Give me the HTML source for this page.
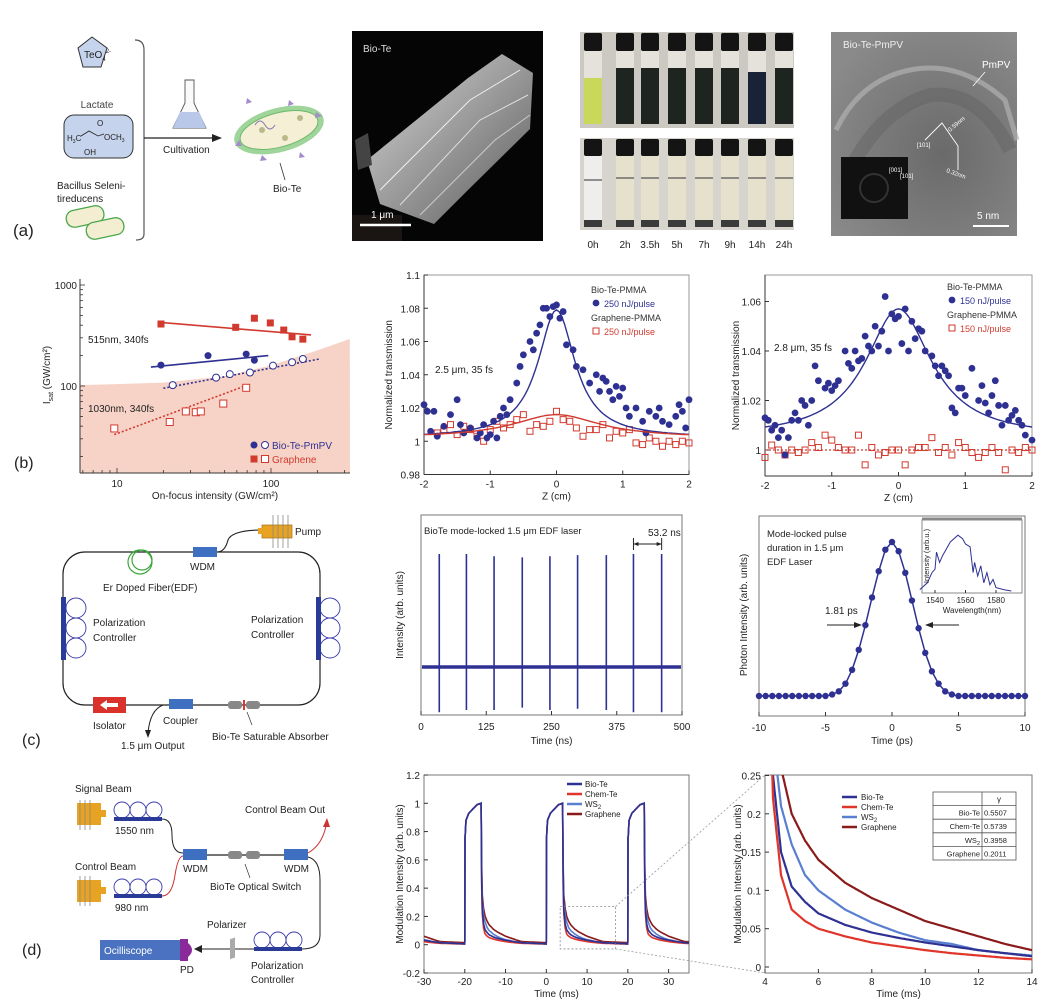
<!DOCTYPE html>
<html><head><meta charset="utf-8">
<style>
html,body{margin:0;padding:0;background:#fff;}
svg{display:block;font-family:"Liberation Sans",Arial,sans-serif;}
text{font-family:"Liberation Sans",Arial,sans-serif;}
</style></head>
<body>
<svg id="fig" width="1059" height="1004" viewBox="0 0 1059 1004" xmlns="http://www.w3.org/2000/svg">
<defs>
<linearGradient id="cryst" x1="0" y1="0" x2="1" y2="1"><stop offset="0" stop-color="#d8d8d8"/><stop offset="0.5" stop-color="#9a9a9a"/><stop offset="1" stop-color="#5a5a5a"/></linearGradient>
<radialGradient id="tem" cx="0.6" cy="0.6" r="0.7"><stop offset="0" stop-color="#6a6a6a"/><stop offset="1" stop-color="#8a8a8a"/></radialGradient>
<clipPath id="clipD3"><rect x="765" y="775" width="267" height="198"/></clipPath>
<clipPath id="clipD2"><rect x="424" y="775" width="265" height="198"/></clipPath>
</defs>
<rect x="0" y="0" width="1059" height="1004" fill="#fff"/>

<!-- ===== Panel (a) ===== -->
<g>
  <polygon points="92,37 107,48 101,67 83,67 78,48" fill="#c5d3ec" stroke="#333" stroke-width="1"/>
  <text x="84" y="58" font-size="10" fill="#222">TeO<tspan font-size="6" dy="3">4</tspan><tspan font-size="6" dy="-8">2-</tspan></text>
  <text x="97" y="108" font-size="10" fill="#444" text-anchor="middle">Lactate</text>
  <rect x="64" y="115" width="69" height="43" rx="10" fill="#c5d3ec" stroke="#333" stroke-width="1"/>
  <text x="67" y="141" font-size="8" fill="#222">H<tspan font-size="5" dy="2">3</tspan><tspan dy="-2">C</tspan></text>
  <text x="104" y="140" font-size="8" fill="#222">OCH<tspan font-size="5" dy="2">3</tspan></text>
  <text x="97" y="126" font-size="8" fill="#222">O</text>
  <text x="84" y="155" font-size="8" fill="#222">OH</text>
  <polyline points="81,136 89,131 98,136 104,134" fill="none" stroke="#222" stroke-width="0.8"/>
  <text x="57" y="189" font-size="10" fill="#222">Bacillus Seleni-</text>
  <text x="57" y="202" font-size="10" fill="#222">tiredu<tspan>cens</tspan></text>
  <rect x="66" y="208" width="38" height="17" rx="8" fill="#f3edd2" stroke="#4aa84a" stroke-width="1.3" transform="rotate(-12 85 216)"/>
  <rect x="86" y="220" width="38" height="17" rx="8" fill="#f3edd2" stroke="#4aa84a" stroke-width="1.3" transform="rotate(-12 105 228)"/>
  <text x="13" y="236" font-size="17" fill="#222">(a)</text>
  <path d="M135,40 Q144,40 144,50 L144,234 Q144,240 136,240" fill="none" stroke="#555" stroke-width="1.2"/>
  <line x1="144" y1="138" x2="215" y2="138" stroke="#222" stroke-width="1.2"/>
  <polygon points="222,138 212,134 212,142" fill="#222"/>
  <text x="163" y="153" font-size="10" fill="#222">Cultivation</text>
  <path d="M185,80 L194,80 L194,103 L206,128 L173,128 L185,103 Z" fill="#fafafa" stroke="#555" stroke-width="0.9"/>
  <path d="M180,112 L199,112 L206,128 L173,128 Z" fill="#b9c8e8"/>
  <ellipse cx="279" cy="130" rx="46" ry="22" fill="#9fd49a" transform="rotate(-15 279 130)"/>
  <ellipse cx="279" cy="130" rx="40" ry="17" fill="#f5efd6" stroke="#6ab86a" stroke-width="1" transform="rotate(-15 279 130)"/>
  <polygon points="247,98 252,102 246,104" fill="#a48ccc"/><polygon points="289,100 294,104 288,106" fill="#a48ccc"/>
  <polygon points="316,112 322,116 315,118" fill="#a48ccc"/><polygon points="262,155 267,160 260,161" fill="#a48ccc"/>
  <polygon points="300,152 305,157 299,158" fill="#a48ccc"/><polygon points="239,140 235,146 242,146" fill="#a48ccc"/>
  <circle cx="262" cy="130" r="3" fill="#b9b98a"/><circle cx="285" cy="138" r="3" fill="#b9b98a"/><circle cx="300" cy="118" r="3" fill="#b9b98a"/>
  <path d="M255,125 q5,-8 10,0 q5,8 10,0" fill="none" stroke="#8a7ab0" stroke-width="1"/>
  <line x1="285" y1="180" x2="280" y2="163" stroke="#333" stroke-width="0.8"/>
  <text x="273" y="192" font-size="10" fill="#222">Bio-Te</text>
</g>
<g>
  <rect x="352" y="31" width="191" height="210" fill="#050505"/>
  <rect x="352" y="215" width="50" height="26" fill="#1a1512"/>
  <polygon points="367,160 468,78 502,54 533,73 530,129 468,190 434,224 380,204" fill="url(#cryst)"/>
  <polyline points="380,190 470,100 520,70" fill="none" stroke="#eee" stroke-width="1"/>
  <polyline points="400,205 480,120 528,95" fill="none" stroke="#ddd" stroke-width="1"/>
  <polyline points="420,215 495,140 530,115" fill="none" stroke="#ccc" stroke-width="1"/>
  <polygon points="355,140 368,133 372,165 358,170" fill="#444"/>
  <text x="363" y="52" font-size="10" fill="#ddd">Bio-Te</text>
  <text x="371" y="218" font-size="10" fill="#fff">1 μm</text>
  <line x1="360" y1="225" x2="411" y2="225" stroke="#fff" stroke-width="2.5"/>
</g>
<g id="vials">
  <rect x="580" y="32" width="214" height="96" fill="#cbc9c2"/>
  <rect x="580" y="138" width="214" height="92" fill="#d6d4cc"/>
</g>
<g>
  <rect x="831" y="32" width="186" height="204" fill="url(#tem)"/>
  <path d="M836,130 Q860,80 910,70 Q960,60 1005,100 L1017,140" fill="none" stroke="#b0b0b0" stroke-width="5" opacity="0.7"/>
  <path d="M850,170 Q880,110 930,95 Q980,90 1010,150" fill="none" stroke="#5e5e5e" stroke-width="14" opacity="0.4"/>
  <rect x="841" y="157" width="67" height="62" fill="#111"/>
  <circle cx="874" cy="188" r="14" fill="none" stroke="#333" stroke-width="2"/>
  <text x="843" y="48" font-size="10" fill="#eee">Bio-Te-PmPV</text>
  <text x="982" y="68" font-size="10" fill="#fff">PmPV</text>
  <line x1="985" y1="72" x2="973" y2="86" stroke="#fff" stroke-width="0.8"/>
  <polyline points="925,140 942,123 958,146 958,170" fill="none" stroke="#fff" stroke-width="0.9"/>
  <text x="950" y="132" font-size="6" fill="#fff" transform="rotate(-40 950 132)">0.59nm</text>
  <text x="946" y="172" font-size="6" fill="#fff" transform="rotate(20 946 172)">0.32nm</text>
  <text x="917" y="147" font-size="6" fill="#fff">[101]</text>
  <text x="889" y="172" font-size="6" fill="#fff">[001]</text>
  <text x="900" y="178" font-size="6" fill="#fff">[101]</text>
  <text x="977" y="219" font-size="10" fill="#fff">5 nm</text>
  <line x1="973" y1="226" x2="1009" y2="226" stroke="#fff" stroke-width="2"/>
</g>

<!-- ===== Panel (c) schematic ===== -->
<g>
  <rect x="63" y="552" width="257" height="153" rx="22" fill="none" stroke="#222" stroke-width="1.2"/>
  <path d="M217,552 Q225,552 228,540 Q232,530 262,530" fill="none" stroke="#222" stroke-width="1.1"/>
  <rect x="262" y="525" width="30" height="13" fill="#e8a323" stroke="#a87010" stroke-width="0.7"/>
  <rect x="258" y="528" width="5" height="6" fill="#e8a323"/>
  <g stroke="#888" stroke-width="0.8"><line x1="273" y1="515" x2="273" y2="548"/><line x1="278" y1="515" x2="278" y2="548"/><line x1="283" y1="515" x2="283" y2="548"/><line x1="288" y1="515" x2="288" y2="548"/></g>
  <text x="295" y="535" font-size="10" fill="#222">Pump</text>
  <rect x="193" y="547" width="24" height="10" fill="#3f6fc0"/>
  <text x="190" y="570" font-size="10" fill="#222">WDM</text>
  <circle cx="140" cy="562" r="12" fill="none" stroke="#3aa53a" stroke-width="1.2"/>
  <circle cx="142" cy="560" r="10" fill="none" stroke="#3aa53a" stroke-width="1.2"/>
  <text x="103" y="591" font-size="10" fill="#222">Er Doped Fiber(EDF)</text>
  <rect x="61" y="597" width="5" height="63" fill="#2a3a98"/>
  <g fill="none" stroke="#3a3aa8" stroke-width="0.9"><circle cx="76" cy="608" r="10"/><circle cx="76" cy="628" r="10"/><circle cx="76" cy="648" r="10"/>
  <circle cx="330" cy="608" r="10"/><circle cx="330" cy="628" r="10"/><circle cx="330" cy="648" r="10"/></g>
  <rect x="316" y="597" width="5" height="63" fill="#2a3a98"/>
  <text x="93" y="626" font-size="10" fill="#222">Polarization</text>
  <text x="93" y="641" font-size="10" fill="#222">Controller</text>
  <text x="251" y="623" font-size="10" fill="#222">Polarization</text>
  <text x="251" y="638" font-size="10" fill="#222">Controller</text>
  <rect x="93" y="697" width="33" height="16" fill="#d8322a"/>
  <polygon points="100,705 107,700 107,710" fill="#fff"/><rect x="106" y="703" width="12" height="4" fill="#fff"/>
  <text x="93" y="729" font-size="10" fill="#222">Isolator</text>
  <rect x="169" y="699" width="24" height="10" fill="#3f6fc0"/>
  <text x="163" y="724" font-size="10" fill="#222">Coupler</text>
  <path d="M163,705 Q150,710 148,733" fill="none" stroke="#222" stroke-width="1"/>
  <polygon points="148,738 145,730 151,730" fill="#222"/>
  <text x="121" y="749" font-size="10" fill="#222">1.5 μm Output</text>
  <rect x="228" y="701" width="14" height="8" rx="3" fill="#888"/><rect x="246" y="701" width="14" height="8" rx="3" fill="#888"/>
  <rect x="243" y="700" width="2" height="10" fill="#d33"/>
  <line x1="252" y1="725" x2="247" y2="712" stroke="#333" stroke-width="0.7"/>
  <text x="212" y="740" font-size="10" fill="#222">Bio-Te Saturable Absorber</text>
  <text x="22" y="745" font-size="16" fill="#222">(c)</text>
</g>

<!-- ===== Panel (d) schematic ===== -->
<g>
  <text x="75" y="792" font-size="10" fill="#222">Signal Beam</text>
  <rect x="77" y="803" width="24" height="22" fill="#e8a323"/><rect x="101" y="810" width="5" height="7" fill="#e8a323"/>
  <g stroke="#888" stroke-width="0.8"><line x1="80" y1="800" x2="80" y2="830"/><line x1="85" y1="800" x2="85" y2="830"/><line x1="90" y1="800" x2="90" y2="830"/></g>
  <g fill="none" stroke="#3a3aa8" stroke-width="0.9"><circle cx="122" cy="810" r="8"/><circle cx="138" cy="810" r="8"/><circle cx="154" cy="810" r="8"/>
  <circle cx="122" cy="887" r="8"/><circle cx="138" cy="887" r="8"/><circle cx="154" cy="887" r="8"/>
  <circle cx="262" cy="940" r="8"/><circle cx="278" cy="940" r="8"/><circle cx="294" cy="940" r="8"/></g>
  <rect x="114" y="817" width="48" height="4" fill="#2a3a98"/><rect x="114" y="894" width="48" height="4" fill="#2a3a98"/><rect x="254" y="947" width="48" height="4" fill="#2a3a98"/>
  <text x="115" y="834" font-size="10" fill="#222">1550 nm</text>
  <text x="75" y="870" font-size="10" fill="#222">Control Beam</text>
  <rect x="77" y="880" width="24" height="22" fill="#e8a323"/><rect x="101" y="887" width="5" height="7" fill="#e8a323"/>
  <g stroke="#888" stroke-width="0.8"><line x1="80" y1="876" x2="80" y2="906"/><line x1="85" y1="876" x2="85" y2="906"/><line x1="90" y1="876" x2="90" y2="906"/></g>
  <text x="115" y="911" font-size="10" fill="#222">980 nm</text>
  <path d="M162,819 Q172,819 172,835 Q172,853 183,853" fill="none" stroke="#222" stroke-width="1"/>
  <path d="M162,896 Q172,896 175,875 Q178,856 183,856" fill="none" stroke="#c33" stroke-width="1"/>
  <rect x="183" y="849" width="24" height="11" fill="#3f6fc0"/><rect x="284" y="849" width="24" height="11" fill="#3f6fc0"/>
  <line x1="207" y1="855" x2="284" y2="855" stroke="#222" stroke-width="1.2"/>
  <rect x="228" y="851" width="14" height="8" rx="3" fill="#888"/><rect x="246" y="851" width="14" height="8" rx="3" fill="#888"/>
  <text x="183" y="872" font-size="10" fill="#222">WDM</text><text x="284" y="872" font-size="10" fill="#222">WDM</text>
  <line x1="250" y1="878" x2="245" y2="864" stroke="#333" stroke-width="0.7"/>
  <text x="210" y="890" font-size="10" fill="#222">BioTe Optical Switch</text>
  <path d="M308,853 Q322,845 326,826" fill="none" stroke="#c33" stroke-width="1"/>
  <polygon points="327,818 323,827 330,827" fill="#c33"/>
  <text x="245" y="813" font-size="10" fill="#222">Control Beam Out</text>
  <path d="M308,857 Q320,860 320,880 L320,935 Q320,949 302,949" fill="none" stroke="#222" stroke-width="1"/>
  <line x1="254" y1="949" x2="197" y2="949" stroke="#222" stroke-width="1"/>
  <polygon points="194,949 202,945 202,953" fill="#222"/>
  <rect x="230" y="938" width="5" height="20" fill="#aaa" transform="skewY(-20) translate(0,85)"/>
  <text x="207" y="928" font-size="10" fill="#222">Polarizer</text>
  <text x="251" y="969" font-size="10" fill="#222">Polarization</text>
  <text x="251" y="983" font-size="10" fill="#222">Controller</text>
  <rect x="100" y="940" width="81" height="20" fill="#4a72c0"/>
  <text x="104" y="954" font-size="10" fill="#fff">Ocilliscope</text>
  <rect x="180" y="939" width="8" height="22" fill="#8a2a9a"/><path d="M188,943 Q196,950 188,957 Z" fill="#8a2a9a"/>
  <text x="180" y="973" font-size="10" fill="#222">PD</text>
  <text x="22" y="955" font-size="16" fill="#222">(d)</text>
</g>
<text x="14" y="468" font-size="16" fill="#222">(b)</text>
<g id="charts"></g>
</svg>

<script>
// ---------------- DATA ----------------
// vials (row a)
const vialLabels=["0h","2h","3.5h","5h","7h","9h","14h","24h"];
const vialX=[593,625,650,677,704,730,757,784];
// b1 (log-log)
const b1GrFillX=[19.3,59,78,99,121,137,161];
const b1GrFillY=[411,381,469,421,358,307,291];
const b1GrFitX=[18.4,182], b1GrFitY=[428,320];
const b1BtFillX=[19.3,39,69,78];
const b1BtFillY=[161,200,207,180];
const b1BtFitX=[16.6,96], b1BtFitY=[154,200];
const b1BtOpenX=[23,44,54,73,103,137,161];
const b1BtOpenY=[102,121,131,136,159,172,185];
const b1BtOpenFitX=[20,206], b1BtOpenFitY=[95,185];
const b1GrOpenX=[9.6,22,28,32.5,35,49,69];
const b1GrOpenY=[38,44,56,55,56,67,96];
const b1GrOpenFitX=[9.6,69], b1GrOpenFitY=[33,101];
const b1RegionX=[5.8,20,50,100,200,325];
const b1RegionY=[102,108,125,160,225,292];
const b1XTicks=[10,100], b1YTicks=[100,1000];
// b2
const b2BlueX=[-2,-1.95,-1.9,-1.85,-1.8,-1.7,-1.6,-1.5,-1.45,-1.4,-1.3,-1.2,-1.15,-1.1,-1.05,-1.0,-0.95,-0.9,-0.85,-0.8,-0.75,-0.7,-0.6,-0.55,-0.5,-0.4,-0.35,-0.3,-0.25,-0.2,-0.15,-0.1,-0.05,0,0.05,0.1,0.15,0.25,0.3,0.4,0.5,0.6,0.65,0.7,0.75,0.8,0.85,0.9,0.95,1.0,1.05,1.1,1.2,1.3,1.35,1.4,1.5,1.55,1.6,1.7,1.8,1.85,1.9,1.95,2.0];
const b2BlueY=[1.022,1.018,1.006,1.018,1.003,1.009,1.016,1.025,1.010,1.005,1.008,1.002,1.005,1.010,1.002,1.004,1.012,1.002,1.015,1.020,1.016,1.025,1.035,1.045,1.052,1.060,1.055,1.065,1.070,1.080,1.080,1.075,1.081,1.082,1.074,1.078,1.058,1.055,1.045,1.043,1.035,1.040,1.030,1.038,1.036,1.030,1.025,1.033,1.027,1.032,1.020,1.015,1.020,1.012,1.005,1.018,1.015,1.020,1.012,1.010,1.015,1.022,1.018,1.008,1.025];
const b2RedX=[-1.8,-1.7,-1.6,-1.5,-1.4,-1.3,-1.2,-1.1,-1.0,-0.9,-0.8,-0.7,-0.6,-0.5,-0.4,-0.3,-0.2,-0.1,0,0.1,0.2,0.3,0.4,0.5,0.6,0.7,0.8,0.9,1.0,1.1,1.2,1.3,1.4,1.5,1.6,1.7,1.8,1.9,2.0];
const b2RedY=[1.005,1.007,1.010,1.004,1.009,1.007,1.003,1.000,1.007,1.012,1.008,1.010,1.013,1.016,1.006,1.010,1.009,1.012,1.018,1.013,1.012,1.008,1.003,1.007,1.007,1.010,1.002,1.006,1.005,1.007,0.999,0.998,1.002,1.000,0.997,1.000,0.998,1.000,0.999];
const b2BlueFit=[1.002,0.077,0.34]; // baseline, amplitude, half-width
const b2RedFit=[1.002,0.014,0.8];
const b2YTicks=[0.98,1,1.02,1.04,1.06,1.08,1.1];
const b2XTicks=[-2,-1,0,1,2];
// b3
const b3BlueX=[-2,-1.95,-1.9,-1.85,-1.8,-1.75,-1.7,-1.65,-1.6,-1.55,-1.5,-1.45,-1.4,-1.35,-1.3,-1.25,-1.2,-1.1,-1.05,-1.0,-0.95,-0.9,-0.8,-0.75,-0.7,-0.65,-0.6,-0.55,-0.5,-0.45,-0.4,-0.35,-0.3,-0.25,-0.2,-0.15,-0.1,-0.05,0,0.05,0.1,0.15,0.2,0.25,0.3,0.35,0.4,0.5,0.55,0.6,0.65,0.7,0.75,0.8,0.85,0.9,0.95,1.0,1.1,1.2,1.25,1.3,1.35,1.4,1.45,1.5,1.55,1.6,1.65,1.7,1.75,1.8,1.85,1.9,2.0];
const b3BlueY=[1.013,1.012,1.008,1.010,1.005,1.008,0.998,1.005,1.012,1.015,1.012,1.020,1.018,1.010,1.020,1.034,1.028,1.025,1.027,1.024,1.026,1.028,1.040,1.035,1.033,1.040,1.036,1.037,1.046,1.042,1.040,1.050,1.042,1.048,1.062,1.040,1.055,1.053,1.054,1.043,1.057,1.040,1.052,1.045,1.049,1.048,1.040,1.038,1.034,1.030,1.034,1.032,1.030,1.017,1.015,1.025,1.025,1.022,1.033,1.020,1.026,1.019,1.015,1.022,1.028,1.018,1.010,1.018,1.012,1.014,1.016,1.012,1.010,1.006,1.004];
const b3RedX=[-2,-1.9,-1.8,-1.7,-1.6,-1.5,-1.4,-1.3,-1.2,-1.1,-1.0,-0.9,-0.8,-0.7,-0.6,-0.5,-0.4,-0.3,-0.2,-0.1,0,0.1,0.2,0.3,0.4,0.5,0.6,0.7,0.8,0.9,1.0,1.1,1.2,1.3,1.4,1.5,1.6,1.7,1.8,1.9,2.0];
const b3RedY=[0.997,1.002,1.000,0.998,1.000,0.999,1.000,1.003,1.001,1.006,1.004,1.001,1.000,1.000,1.006,0.994,1.001,0.998,0.999,1.000,1.000,0.994,1.000,1.001,1.001,1.005,0.999,1.001,0.998,1.003,1.001,0.999,0.997,0.999,1.001,0.999,0.992,1.000,0.999,1.001,1.000];
const b3BlueFit=[1.005,0.052,0.6];
const b3RedLevel=[1.0];
const b3YTicks=[1,1.02,1.04,1.06];
const b3XTicks=[-2,-1,0,1,2];
// c2
const c2PulseT=[35,87,140,194,247,300,355,407,461];
const c2PulseTop=[1,1,0.98,0.97,0.98,0.99,0.99,1,1];
const c2PulseDip=[-0.4,-0.38,-0.38,-0.36,-0.38,-0.37,-0.38,-0.4,-0.4];
const c2XTicks=[0,125,250,375,500];
// c3
const c3X=[-10,-9.5,-9,-8.5,-8,-7.5,-7,-6.5,-6,-5.5,-5,-4.5,-4,-3.5,-3,-2.5,-2,-1.5,-1,-0.5,0,0.5,1,1.5,2,2.5,3,3.5,4,4.5,5,5.5,6,6.5,7,7.5,8,8.5,9,9.5,10];
const c3Y=[0,0,0,0,0,0,0,0,0,0,0,0.01,0.03,0.08,0.17,0.3,0.46,0.64,0.81,0.95,1.0,0.94,0.8,0.62,0.44,0.28,0.16,0.08,0.03,0.01,0,0,0,0,0,0,0,0,0,0,0];
const c3XTicks=[-10,-5,0,5,10];
const specX=[1530,1535,1538,1540,1541,1543,1545,1550,1555,1558,1560,1563,1565,1566,1568,1570,1572,1574,1576,1578,1580,1585,1590];
const specY=[0.05,0.15,0.3,0.35,0.6,0.45,0.55,0.75,0.85,0.8,0.72,0.68,0.3,0.45,0.25,0.4,0.15,0.3,0.12,0.2,0.08,0.05,0.03];
const specTicks=[1540,1560,1580];
// d2 / d3
const dSeriesNames=["Bio-Te","Chem-Te","WS2","Graphene"];
const decayT=[4,4.15,4.3,4.6,5,5.5,6,7,8,9,10,11,12,13,14,17,20];
const decayBioTe=[1.0,0.45,0.25,0.15,0.105,0.085,0.07,0.055,0.045,0.038,0.032,0.027,0.022,0.018,0.014,0.01,0.006];
const decayChemTe=[1.0,0.4,0.22,0.12,0.075,0.06,0.05,0.04,0.032,0.027,0.022,0.018,0.015,0.012,0.01,0.007,0.004];
const decayWS2=[1.0,0.5,0.3,0.21,0.16,0.12,0.1,0.075,0.058,0.045,0.035,0.03,0.022,0.018,0.015,0.01,0.006];
const decayGraphene=[1.0,0.55,0.35,0.26,0.2,0.165,0.14,0.11,0.09,0.075,0.06,0.05,0.04,0.03,0.022,0.018,0.015];
const riseT=[0,0.05,0.3,1,2,3,4];
const riseV=[0.02,0.75,0.88,0.93,0.96,0.99,1.0];
const pulseStarts=[-40,-20,0,20];
const d2XTicks=[-30,-20,-10,0,10,20,30];
const d2YTicks=[-0.2,0,0.2,0.4,0.6,0.8,1,1.2];
const d3XTicks=[4,6,8,10,12,14];
const d3YTicks=[0,0.05,0.1,0.15,0.2,0.25];
const gammaVals=["0.5507","0.5739","0.3958","0.2011"];

// ---------------- HELPERS ----------------
const NS='http://www.w3.org/2000/svg';
const svg=document.getElementById('charts');
function mk(tag,attrs,parent){const e=document.createElementNS(NS,tag);for(const k in attrs)e.setAttribute(k,attrs[k]);(parent||svg).appendChild(e);return e;}
function txt(x,y,s,size,anchor,fill,parent){const t=mk('text',{x:x,y:y,'font-size':size,'text-anchor':anchor||'start',fill:fill||'#222'},parent);t.textContent=s;return t;}
function lin(d0,d1,r0,r1){return v=>r0+(v-d0)/(d1-d0)*(r1-r0);}
function interp(xs,ys,x){if(x<=xs[0])return ys[0];for(let i=1;i<xs.length;i++){if(x<=xs[i]){const f=(x-xs[i-1])/(xs[i]-xs[i-1]);return ys[i-1]+f*(ys[i]-ys[i-1]);}}return ys[ys.length-1];}
function dot(x,y,r,fill,parent){return mk('circle',{cx:x,cy:y,r:r,fill:fill},parent);}
function sq(x,y,s,stroke,fill,parent){return mk('rect',{x:x-s/2,y:y-s/2,width:s,height:s,fill:fill||'none',stroke:stroke,'stroke-width':1},parent);}
const NAVY='#2e3192', RED='#d23a2f';

// ---------------- VIALS ----------------
(function(){
  const g=document.getElementById('vials');
  vialX.forEach((cx,i)=>{
    // top row
    const b=mk('rect',{x:cx-9,y:50,width:18,height:74,fill:'#e4e2da'},g);
    
    
    const fillTop=i===0?78:(i===6?72:68);
    mk('rect',{x:cx-9,y:fillTop,width:18,height:124-fillTop,fill:i===0?'#c9d85a':(i===6?'#1a2238':'#1e2420')},g);
    mk('rect',{x:cx-9,y:33,width:18,height:18,rx:2,fill:'#141414'},g);
    // bottom row
    const bb=mk('rect',{x:cx-9,y:155,width:18,height:72,fill:i===0?'#eeeeec':'#e6e1cc'},g);
    
    
    mk('line',{x1:cx-9,y1:i===0?180:178,x2:cx+9,y2:i===0?180:178,stroke:'#555','stroke-width':1.2},g);
    mk('rect',{x:cx-9,y:220,width:18,height:7,fill:'#3a3a3a'},g);
    mk('rect',{x:cx-9,y:139,width:18,height:17,rx:2,fill:'#141414'},g);
    const t=txt(cx,248,vialLabels[i],10,'middle','#222',g);
    
    
  });
})();

// ---------------- B1 ----------------
(function(){
  const g=mk('g',{});
  
  
  const lx=v=>117+154*(Math.log10(v)-1);
  const ly=v=>285+101*(3-Math.log10(v));
  const L=80,R=350,T=279,B=473;
  let d='M'+lx(b1RegionX[0])+','+ly(b1RegionY[0]);
  for(let i=1;i<b1RegionX.length;i++) d+=' L'+lx(b1RegionX[i])+','+ly(b1RegionY[i]);
  d+=' L'+R+','+B+' L'+L+','+B+' Z';
  const reg=mk('path',{d:d,fill:'#f7d3c7'},g);
  
  
  mk('line',{x1:L,y1:T,x2:L,y2:B,stroke:'#333','stroke-width':1},g);
  mk('line',{x1:L,y1:B,x2:R,y2:B,stroke:'#333','stroke-width':1},g);
  // ticks
  for(let dec=1;dec<=3;dec++){for(let m=1;m<10;m++){const v=m*Math.pow(10,dec-1);const x=lx(v);if(x>=L&&x<=R)mk('line',{x1:x,y1:B,x2:x,y2:B-(m===1?5:3),stroke:'#333','stroke-width':0.8},g);}}
  for(let dec=1;dec<=3;dec++){for(let m=1;m<10;m++){const v=m*Math.pow(10,dec);const y=ly(v);if(y>=T&&y<=B)mk('line',{x1:L,y1:y,x2:L+(m===1?5:3),y2:y,stroke:'#333','stroke-width':0.8},g);}}
  b1XTicks.forEach(v=>{const t=txt(lx(v),487,String(v),10,'middle','#222',g);});
  b1YTicks.forEach(v=>{const t=txt(L-3,ly(v)+4,String(v),10,'end','#222',g);});
  const xl=txt(215,499,'On-focus intensity (GW/cm²)',10,'middle','#222',g);
  
  
  const yl=txt(0,0,'',10,'middle','#222',g);
  yl.setAttribute('transform','translate(50,375) rotate(-90)');
  yl.innerHTML='I<tspan font-size="7" dy="3">sat</tspan><tspan dy="-3"> (GW/cm²)</tspan>';
  
  
  // fits
  const fits=[[b1GrFitX,b1GrFitY,RED,''],[b1BtFitX,b1BtFitY,NAVY,''],[b1BtOpenFitX,b1BtOpenFitY,NAVY,'2,2'],[b1GrOpenFitX,b1GrOpenFitY,RED,'2,2']];
  fits.forEach(f=>{const l=mk('line',{x1:lx(f[0][0]),y1:ly(f[1][0]),x2:lx(f[0][1]),y2:ly(f[1][1]),stroke:f[2],'stroke-width':1.6,'stroke-dasharray':f[3]},g);
    
    });
  b1GrFillX.forEach((v,i)=>{const m=mk('rect',{x:lx(v)-3.5,y:ly(b1GrFillY[i])-3.5,width:7,height:7,fill:RED},g);});
  b1BtFillX.forEach((v,i)=>{const m=dot(lx(v),ly(b1BtFillY[i]),3.5,NAVY,g);});
  b1BtOpenX.forEach((v,i)=>{const m=mk('circle',{cx:lx(v),cy:ly(b1BtOpenY[i]),r:3.5,fill:'#fff',stroke:NAVY,'stroke-width':1},g);});
  b1GrOpenX.forEach((v,i)=>{const m=sq(lx(v),ly(b1GrOpenY[i]),7,RED,'#fff',g);});
  txt(88,343,'515nm, 340fs',10,'start','#222',g);
  txt(88,412,'1030nm, 340fs',10,'start','#222',g);
  const lg=mk('g',{},g);
  
  
  dot(254,445,3.5,NAVY,lg);mk('circle',{cx:265,cy:445,r:3.5,fill:'#fff',stroke:NAVY},lg);
  txt(272,449,'Bio-Te-PmPV',10,'start',NAVY,lg);
  mk('rect',{x:250.5,y:455.5,width:7,height:7,fill:RED},lg);sq(265,459,7,RED,'#fff',lg);
  txt(272,463,'Graphene',10,'start',RED,lg);
})();

// ---------------- Z-scan charts ----------------
function zscan(cfg){
  const g=mk('g',{});
  
  
  const sx=lin(-2,2,cfg.L,cfg.R), sy=lin(cfg.y0,cfg.y1,cfg.B,cfg.T);
  mk('rect',{x:cfg.L,y:cfg.T,width:cfg.R-cfg.L,height:cfg.B-cfg.T,fill:'none',stroke:'#999','stroke-width':1},g);
  mk('line',{x1:cfg.L,y1:cfg.T,x2:cfg.L,y2:cfg.B,stroke:'#333'},g);
  mk('line',{x1:cfg.L,y1:cfg.B,x2:cfg.R,y2:cfg.B,stroke:'#333'},g);
  cfg.yt.forEach(v=>{const y=sy(v);mk('line',{x1:cfg.L,y1:y,x2:cfg.L+4,y2:y,stroke:'#333'},g);
    const t=txt(cfg.L-4,y+4,String(v),10,'end','#222',g);});
  cfg.xt.forEach(v=>{const x=sx(v);mk('line',{x1:x,y1:cfg.B,x2:x,y2:cfg.B-4,stroke:'#333'},g);
    const t=txt(x,cfg.B+13,String(v),10,'middle','#222',g);});
  const xl=txt((cfg.L+cfg.R)/2,cfg.B+25,'Z (cm)',10,'middle','#222',g);
  
  
  const yl=txt(0,0,'Normalized transmission',10,'middle','#222',g);
  yl.setAttribute('transform','translate('+cfg.ylx+','+((cfg.T+cfg.B)/2)+') rotate(-90)');
  
  
  // fits
  function fitPath(p){let d='';for(let i=0;i<=100;i++){const x=-2+i*0.04;const y=p[0]+p[1]/(1+Math.pow(x/p[2],2));d+=(i?' L':'M')+sx(x).toFixed(1)+','+sy(y).toFixed(1);}return d;}
  cfg.redX.forEach((v,i)=>{const m=sq(sx(v),sy(cfg.redY[i]),6,RED,'none',g);});
  cfg.blueX.forEach((v,i)=>{const m=dot(sx(v),sy(cfg.blueY[i]),3.4,NAVY,g);});
  const bf=mk('path',{d:fitPath(cfg.blueFit),fill:'none',stroke:NAVY,'stroke-width':1.4},g);
  
  
  let rf;
  if(cfg.redFit) rf=mk('path',{d:fitPath(cfg.redFit),fill:'none',stroke:RED,'stroke-width':1.4},g);
  else rf=mk('line',{x1:cfg.L,y1:sy(cfg.redLevel[0]),x2:cfg.R,y2:sy(cfg.redLevel[0]),stroke:RED,'stroke-width':1.2,'stroke-dasharray':'2,2'},g);
  
  
  const lg=mk('g',{},g);
  
  
  txt(cfg.lgx,cfg.lgy,'Bio-Te-PMMA',9,'start','#333',lg);
  dot(cfg.lgx+5,cfg.lgy+10,3.4,NAVY,lg);
  txt(cfg.lgx+13,cfg.lgy+14,cfg.energy+' nJ/pulse',9,'start',NAVY,lg);
  txt(cfg.lgx,cfg.lgy+28,'Graphene-PMMA',9,'start','#333',lg);
  sq(cfg.lgx+5,cfg.lgy+38,6,RED,'none',lg);
  txt(cfg.lgx+13,cfg.lgy+42,cfg.energy+' nJ/pulse',9,'start',RED,lg);
  txt(cfg.lx,cfg.ly,cfg.label,10,'start','#222',g);
}
zscan({name:'zscan-2.5um-chart',L:424,R:689,T:275,B:474.5,y0:0.98,y1:1.1,yt:b2YTicks,xt:b2XTicks,ylx:392,
  blueX:b2BlueX,blueY:b2BlueY,redX:b2RedX,redY:b2RedY,blueFit:b2BlueFit,redFit:b2RedFit,lgx:591,lgy:293,energy:'250',label:'2.5 μm, 35 fs',lx:435,ly:373});
zscan({name:'zscan-2.8um-chart',L:765,R:1032,T:275,B:476,y0:0.9895,y1:1.0707,yt:b3YTicks,xt:b3XTicks,ylx:739,
  blueX:b3BlueX,blueY:b3BlueY,redX:b3RedX,redY:b3RedY,blueFit:b3BlueFit,redFit:null,redLevel:b3RedLevel,lgx:947,lgy:290,energy:'150',label:'2.8 μm, 35 fs',lx:774,ly:351});

// ---------------- C2 pulse train ----------------
(function(){
  const g=mk('g',{});
  
  
  const L=421,R=682,T=515,B=715;
  const sx=lin(0,500,L,R), sy=v=>667-113*v;
  mk('rect',{x:L,y:T,width:R-L,height:B-T,fill:'none',stroke:'#777'},g);
  c2XTicks.forEach(v=>{const x=sx(v);mk('line',{x1:x,y1:B,x2:x,y2:B-4,stroke:'#333'},g);
    const t=txt(x,B+15,String(v),10,'middle','#222',g);});
  const xl=txt((L+R)/2,744,'Time (ns)',10,'middle','#222',g);
  
  
  const yl=txt(0,0,'Intensity (arb. units)',10,'middle','#222',g);
  yl.setAttribute('transform','translate(403,615) rotate(-90)');
  
  
  const base=mk('line',{x1:L+1,y1:sy(0),x2:R-1,y2:sy(0),stroke:NAVY,'stroke-width':3.5},g);
  
  
  c2PulseT.forEach((t,i)=>{const p=mk('line',{x1:sx(t),y1:sy(c2PulseTop[i]),x2:sx(t),y2:sy(c2PulseDip[i]),stroke:NAVY,'stroke-width':1.6},g);
    
    });
  txt(424,534,'BioTe mode-locked 1.5 μm EDF laser',9.5,'start','#222',g);
  txt(648,536,'53.2 ns',10,'start','#222',g);
  const a1=sx(c2PulseT[7]), a2=sx(c2PulseT[8]);
  mk('line',{x1:a1,y1:538,x2:a1,y2:550,stroke:'#222'},g);mk('line',{x1:a2,y1:538,x2:a2,y2:550,stroke:'#222'},g);
  mk('line',{x1:a1,y1:544,x2:a2,y2:544,stroke:'#222'},g);
  mk('polygon',{points:(a1)+',544 '+(a1+5)+',542 '+(a1+5)+',546',fill:'#222'},g);
  mk('polygon',{points:(a2)+',544 '+(a2-5)+',542 '+(a2-5)+',546',fill:'#222'},g);
})();

// ---------------- C3 autocorrelation ----------------
(function(){
  const g=mk('g',{});
  
  
  const L=759,R=1025,T=516,B=716;
  const sx=lin(-10,10,L,R), sy=v=>696-154*v;
  mk('rect',{x:L,y:T,width:R-L,height:B-T,fill:'none',stroke:'#777'},g);
  c3XTicks.forEach(v=>{const x=sx(v);mk('line',{x1:x,y1:B,x2:x,y2:B-4,stroke:'#333'},g);
    const t=txt(x,B+15,String(v),10,'middle','#222',g);});
  const xl=txt((L+R)/2,744,'Time (ps)',10,'middle','#222',g);
  
  
  const yl=txt(0,0,'Photon Intensity (arb. units)',10,'middle','#222',g);
  yl.setAttribute('transform','translate(747,615) rotate(-90)');
  
  
  const pts=c3X.map((v,i)=>sx(v).toFixed(1)+','+sy(c3Y[i]).toFixed(1)).join(' ');
  const pl=mk('polyline',{points:pts,fill:'none',stroke:NAVY,'stroke-width':1.5},g);
  
  
  c3X.forEach((v,i)=>{const m=dot(sx(v),sy(c3Y[i]),3.2,NAVY,g);});
  txt(767,537,'Mode-locked pulse',9.5,'start','#222',g);
  txt(767,551,'duration in 1.5 μm',9.5,'start','#222',g);
  txt(767,565,'EDF Laser',9.5,'start','#222',g);
  txt(825,614,'1.81 ps',10,'start','#222',g);
  mk('line',{x1:827,y1:625,x2:858,y2:625,stroke:'#222'},g);mk('polygon',{points:'862,625 854,622 854,628',fill:'#222'},g);
  mk('line',{x1:959,y1:625,x2:929,y2:625,stroke:'#222'},g);mk('polygon',{points:'925,625 933,622 933,628',fill:'#222'},g);
  // inset spectrum
  const ig=mk('g',{},g);
  
  
  const ix=v=>935+(v-1540)*30.5/20, iy=v=>593-68*v;
  mk('rect',{x:922,y:520,width:100,height:73,fill:'#fff',stroke:'#888'},ig);
  mk('line',{x1:922,y1:519,x2:1022,y2:519,stroke:'#888','stroke-width':3},ig);
  const sp=mk('polyline',{points:specX.map((v,i)=>ix(v).toFixed(1)+','+iy(specY[i]).toFixed(1)).join(' '),fill:'none',stroke:NAVY,'stroke-width':1},ig);
  
  
  specTicks.forEach(v=>{mk('line',{x1:ix(v),y1:593,x2:ix(v),y2:590,stroke:'#333'},ig);txt(ix(v),603,String(v),8,'middle','#222',ig);});
  txt(972,613,'Wavelength(nm)',8,'middle','#222',ig);
  const iyl=txt(0,0,'Intensity (arb.u.)',7.5,'middle','#222',ig);
  iyl.setAttribute('transform','translate(929,556) rotate(-90)');
})();

// ---------------- D2 / D3 ----------------
const dColors=['#2e3192','#e0352a','#5a7fd0','#8b1a1a'];
const dDecays=[decayBioTe,decayChemTe,decayWS2,decayGraphene];
function dValue(k,t){
  let s=null;pulseStarts.forEach(p=>{if(t>=p)s=p;});
  if(s===null) return dDecays[k][dDecays[k].length-1];
  const dt=t-s;
  if(dt<4) return interp(riseT,riseV,dt);
  return interp(decayT,dDecays[k],dt);
}
(function(){
  const g=mk('g',{});
  
  
  const L=424,R=689,T=775,B=973;
  const sx=lin(-30,35,L,R), sy=lin(-0.2,1.2,B,T);
  mk('rect',{x:L,y:T,width:R-L,height:B-T,fill:'none',stroke:'#777'},g);
  d2XTicks.forEach(v=>{const x=sx(v);mk('line',{x1:x,y1:B,x2:x,y2:B-4,stroke:'#333'},g);
    const t=txt(x,B+12,String(v),10,'middle','#222',g);});
  d2YTicks.forEach(v=>{const y=sy(v);mk('line',{x1:L,y1:y,x2:L+4,y2:y,stroke:'#333'},g);
    const t=txt(L-4,y+4,String(Math.round(v*10)/10),10,'end','#222',g);});
  const xl=txt((L+R)/2,997,'Time (ms)',10,'middle','#222',g);
  
  
  const yl=txt(0,0,'Modulation Intensity (arb. units)',10,'middle','#222',g);
  yl.setAttribute('transform','translate(403,874) rotate(-90)');
  
  
  const order=[3,1,2,0];
  order.forEach(k=>{
    let d='';
    for(let i=0;i<=1300;i++){const t=-30+i*0.05;d+=(i?' L':'M')+sx(t).toFixed(1)+','+sy(dValue(k,t)).toFixed(1);}
    const p=mk('path',{d:d,fill:'none',stroke:dColors[k],'stroke-width':1.6,'clip-path':'url(#clipD2)'},g);
    
    
  });
  const lg=mk('g',{},g);
  
  
  dSeriesNames.forEach((n,k)=>{const y=784+k*10;mk('line',{x1:567,y1:y,x2:582,y2:y,stroke:dColors[k],'stroke-width':2.5},lg);
    const t=txt(585,y+3,'',8,'start','#222',lg);
    t.innerHTML=n==='WS2'?'WS<tspan font-size="6" dy="2">2</tspan>':n;});
  // zoom box
  const zr=mk('rect',{x:sx(3.4),y:sy(0.27),width:sx(17)-sx(3.4),height:sy(-0.03)-sy(0.27),fill:'none',stroke:'#888','stroke-width':0.8,'stroke-dasharray':'2,2'},g);
  
  
  mk('line',{x1:sx(17),y1:sy(0.27),x2:765,y2:775,stroke:'#999','stroke-width':0.8,'stroke-dasharray':'2,2'},g);
  mk('line',{x1:sx(17),y1:sy(-0.03),x2:765,y2:973,stroke:'#999','stroke-width':0.8,'stroke-dasharray':'2,2'},g);
})();
(function(){
  const g=mk('g',{});
  
  
  const L=765,R=1032,T=775,B=973;
  const sx=lin(4,14,L,R), sy=v=>967-v*766;
  mk('rect',{x:L,y:T,width:R-L,height:B-T,fill:'none',stroke:'#777'},g);
  d3XTicks.forEach(v=>{const x=sx(v);mk('line',{x1:x,y1:B,x2:x,y2:B-4,stroke:'#333'},g);
    const t=txt(x,B+12,String(v),10,'middle','#222',g);});
  d3YTicks.forEach(v=>{const y=sy(v);mk('line',{x1:L,y1:y,x2:L+4,y2:y,stroke:'#333'},g);
    const t=txt(L-4,y+4,String(v),10,'end','#222',g);});
  const xl=txt((L+R)/2,997,'Time (ms)',10,'middle','#222',g);
  
  
  const yl=txt(0,0,'Modulation Intensity (arb. units)',10,'middle','#222',g);
  yl.setAttribute('transform','translate(741,874) rotate(-90)');
  
  
  [3,2,0,1].forEach(k=>{
    let d='';
    for(let i=0;i<=400;i++){const t=4+i*0.025;d+=(i?' L':'M')+sx(t).toFixed(1)+','+sy(interp(decayT,dDecays[k],t)).toFixed(1);}
    const p=mk('path',{d:d,fill:'none',stroke:dColors[k],'stroke-width':2.2,'clip-path':'url(#clipD3)'},g);
    
    
  });
  const lg=mk('g',{},g);
  
  
  dSeriesNames.forEach((n,k)=>{const y=797+k*10;mk('line',{x1:842,y1:y,x2:857,y2:y,stroke:dColors[k],'stroke-width':2.5},lg);
    const t=txt(861,y+3,'',8,'start','#222',lg);
    t.innerHTML=n==='WS2'?'WS<tspan font-size="6" dy="2">2</tspan>':n;});
  const tb=mk('g',{},g);
  
  
  const rh=13.6;
  mk('rect',{x:933,y:792,width:83,height:rh*5,fill:'#fff',stroke:'#555','stroke-width':0.8},tb);
  mk('line',{x1:982,y1:792,x2:982,y2:792+rh*5,stroke:'#555','stroke-width':0.8},tb);
  for(let r=1;r<5;r++) mk('line',{x1:933,y1:792+r*rh,x2:1016,y2:792+r*rh,stroke:'#555','stroke-width':0.8},tb);
  txt(999,802,'γ',8,'middle','#222',tb);
  dSeriesNames.forEach((n,k)=>{const y=802+(k+1)*rh;const t=txt(980,y,'',7.5,'end','#222',tb);
    t.innerHTML=n==='WS2'?'WS<tspan font-size="5.5" dy="2">2</tspan>':n;
    txt(984,y,gammaVals[k],7.5,'start','#222',tb);});
})();
</script>
</body></html>
